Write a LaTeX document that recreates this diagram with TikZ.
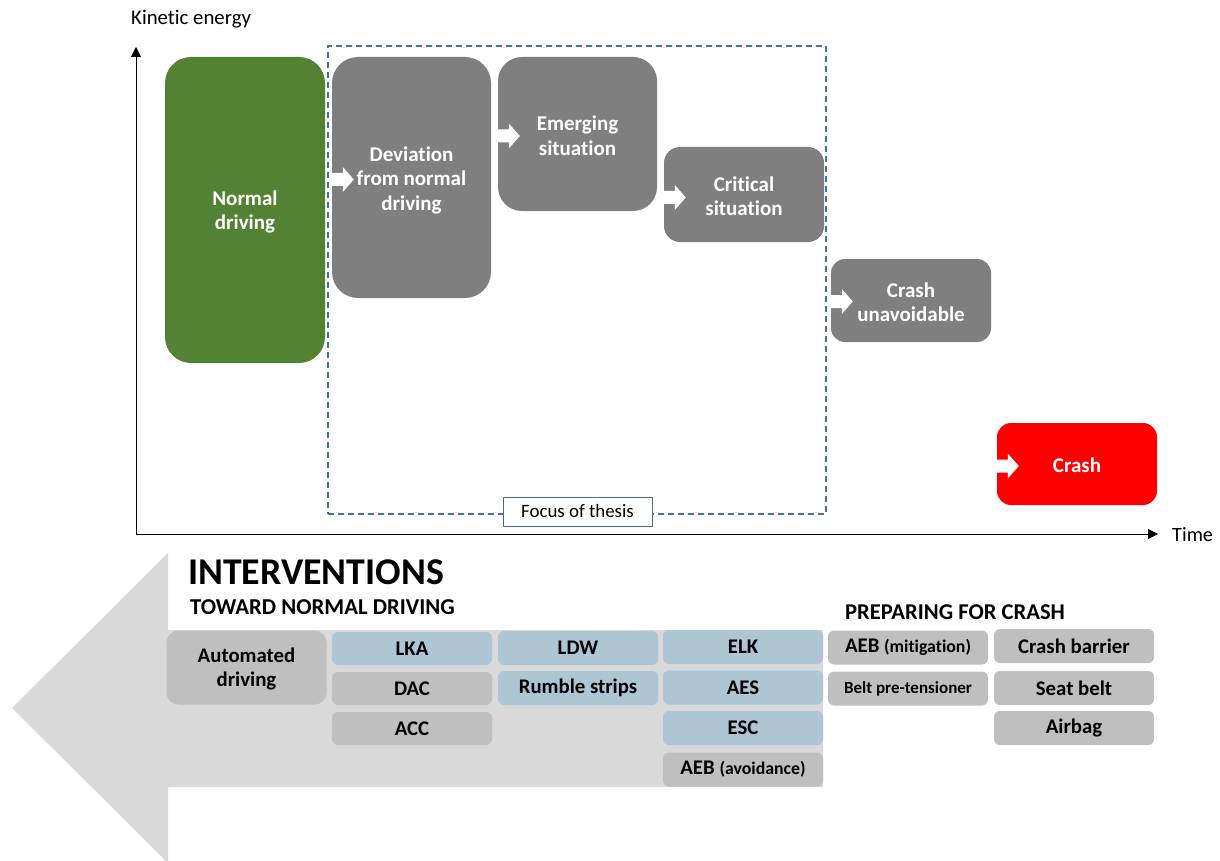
\documentclass[tikz,border=0pt]{standalone}
\usepackage{fontspec}
\setmainfont{Carlito}[Ligatures={NoCommon}]
\usetikzlibrary{arrows.meta,calc}
\definecolor{boxgray}{RGB}{127,127,127}
\definecolor{boxgreen}{RGB}{84,130,53}
\definecolor{lgray}{RGB}{191,191,191}
\definecolor{lblue}{RGB}{174,197,212}
\definecolor{arrowgray}{RGB}{217,217,217}
\definecolor{dashblue}{RGB}{65,113,156}
\newcommand\whitearrow[1]{\fill[white] (#1) ++(0,-6.5) -- ++(11,0) -- ++(0,-6) -- ++(11,12.5) -- ++(-11,12.5) -- ++(0,-6) -- ++(-11,0) -- cycle;}
\begin{document}
\begin{tikzpicture}[x=1pt,y=-1pt,
  phase/.style={fill=boxgray, inner sep=0pt},
  ptext/.style={text=white, align=center, inner sep=0pt,
    font=\bfseries\fontsize{21}{24.5}\selectfont},
  sbox/.style={rounded corners=6, minimum width=160, minimum height=34, inner sep=0pt,
    align=center, font=\bfseries\fontsize{20.8}{24}\selectfont},
  gbox/.style={sbox, fill=lgray},
  bbox/.style={sbox, fill=lblue},
  axis/.style={line width=0.8pt, -{Triangle[length=10pt,width=10pt]}},
  plain/.style={inner sep=0pt, anchor=west}]
\useasboundingbox (0,0) rectangle (1220,861);
\fill[white] (0,0) rectangle (1220,861);

% big left arrow
\fill[arrowgray] (12,708) -- (168,553) -- (168,630) -- (823,630) -- (823,787) -- (168,787) -- (168,863) -- cycle;

% focus box
\node[draw=dashblue, line width=1.1pt, dash pattern=on 6pt off 4pt, minimum width=498, minimum height=468, inner sep=0pt] (focus) at (577,280) {};
\node[draw=dashblue, fill=white, line width=0.8pt, minimum width=149, minimum height=29, inner sep=0pt, font=\fontsize{18.9}{22}\selectfont] (focuslbl) at (577.5,511.5) {Focus of thesis};

% axes
\coordinate (O) at (136,534);
\coordinate (ytip) at (136,47);
\coordinate (xtip) at (1158,534);
\draw[axis] (O) -- (ytip);
\draw[axis] (O) -- (xtip);
\node[plain, font=\fontsize{20.8}{24}\selectfont] (ke) at (131,19) {Kinetic energy};
\node[plain, font=\fontsize{20.3}{24}\selectfont] (time) at (1172,535) {Time};

% phases
\node[phase, fill=boxgreen, minimum width=160, minimum height=306, rounded corners=26] (normal) at (245,210) {};
\node[phase, minimum width=159, minimum height=241, rounded corners=26] (dev) at (411.5,177.5) {};
\node[phase, minimum width=159, minimum height=154, rounded corners=24] (emerg) at (577.5,134) {};
\node[phase, minimum width=160, minimum height=95, rounded corners=16] (crit) at (744,194.5) {};
\node[phase, minimum width=160, minimum height=83, rounded corners=14] (unav) at (911,300.5) {};
\node[phase, fill=red, minimum width=160, minimum height=82, rounded corners=14] (crash) at (1077,464) {};

\node[ptext] (normal-t) at ($(normal.center)+(0,2)$) {Normal\\driving};
\node[ptext] (dev-t) at ($(dev.center)+(0,2.5)$) {Deviation\\from normal\\driving};
\node[ptext] (emerg-t) at ($(emerg.center)+(0,1.5)$) {Emerging\\situation};
\node[ptext] (crit-t) at ($(crit.center)+(0,1.5)$) {Critical\\situation};
\node[ptext] (unav-t) at ($(unav.center)+(0,1.5)$) {Crash\\unavoidable};
\node[ptext] (crash-t) at ($(crash.center)+(0,1)$) {Crash};

\whitearrow{$(dev.west)+(0,2)$}
\whitearrow{$(emerg.west)+(0,2)$}
\whitearrow{$(crit.west)+(0,3)$}
\whitearrow{$(unav.west)+(0,1)$}
\whitearrow{$(crash.west)+(0,2)$}

% interventions headings
\node[plain, font=\bfseries\fontsize{37.8}{42}\selectfont] (interv) at (188,572) {INTERVENTIONS};
\node[plain, font=\bfseries\fontsize{22.7}{26}\selectfont] (toward) at (190,607) {TOWARD NORMAL DRIVING};
\node[plain, font=\bfseries\fontsize{22.6}{26}\selectfont] (prep) at (845,612) {PREPARING FOR CRASH};

% intervention boxes
\node[gbox, minimum height=74, rounded corners=12] (auto) at (246.5,667.5) {};
\node[sbox, minimum width=0pt, minimum height=0pt] (auto-t) at ($(auto.center)+(0,1.5)$) {Automated\\driving};
\node[bbox, minimum height=33] (lka) at (412,648.5) {LKA};
\node[gbox, minimum height=33] (dac) at (412,688.5) {DAC};
\node[gbox, minimum height=33] (acc) at (412,728.5) {ACC};
\node[bbox] (ldw) at (578,648) {LDW};
\node[bbox] (rumble) at (578,688) {Rumble strips};
\node[bbox] (elk) at (743,647) {ELK};
\node[bbox] (aes) at (743,687.5) {AES};
\node[bbox] (esc) at (743,728) {ESC};
\node[gbox] (aeba) at (743,769.5) {AEB {\fontsize{17.8}{20}\selectfont(avoidance)}};
\node[gbox] (aebm) at (908,647.5) {AEB {\fontsize{17.8}{20}\selectfont(mitigation)}};
\node[gbox, font=\bfseries\fontsize{17}{20}\selectfont] (belt) at (908,688.5) {Belt pre-tensioner};
\node[gbox] (barrier) at (1074,646) {Crash barrier};
\node[gbox] (seat) at (1074,688) {Seat belt};
\node[gbox] (airbag) at (1074,728) {Airbag};
\end{tikzpicture}
\end{document}
